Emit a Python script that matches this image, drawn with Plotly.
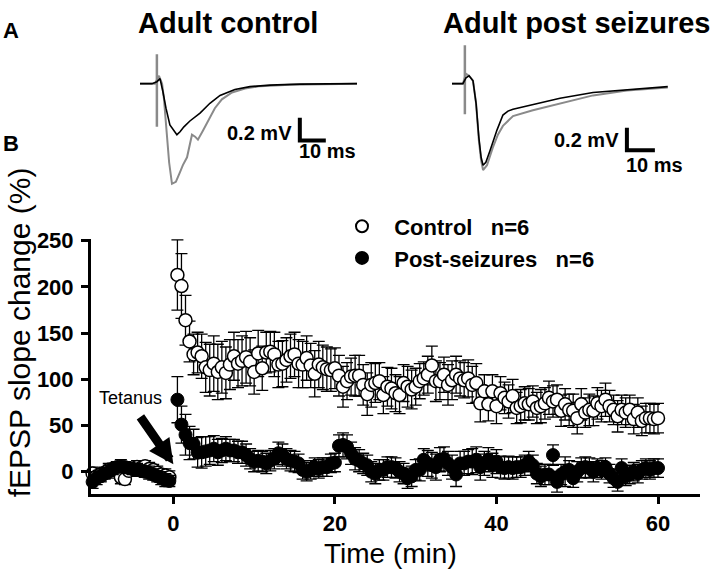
import plotly.graph_objects as go

# ---------------- Panel B data ----------------
base_time = [-10, -9.5, -9, -8.5, -8, -7.5, -7, -6.5, -6, -5.5,
             -5, -4.5, -4, -3.5, -3, -2.5, -2, -1.5, -1, -0.5]
ctrl_base = [-2, -5, -3, -1, 2, 3, 4, -6, -8, 1, 3, 5, 4, 6, 3, 2, -1, -3, -4, -6]
post_base = [-11, -7, -5, -2, 0, 3, 5, 6, 5, 4, 3, 2, 1, 0, -1, -3, -5, -7, -9, -10]
ctrl_base_err = [7, 6, 7, 6, 7, 6, 7, 7, 6, 6, 7, 7, 6, 6, 7, 6, 7, 6, 7, 7]
post_base_err = [7, 7, 6, 6, 7, 6, 6, 7, 6, 6, 6, 7, 6, 6, 7, 6, 6, 7, 7, 6]

post_time = [0.5, 1, 1.5, 2, 2.5, 3, 3.5, 4, 4.5, 5, 5.5, 6, 6.5, 7, 7.5, 8, 8.5, 9, 9.5, 10,
             10.5, 11, 11.5, 12, 12.5, 13, 13.5, 14, 14.5, 15, 15.5, 16, 16.5, 17, 17.5, 18, 18.5, 19, 19.5, 20,
             20.5, 21, 21.5, 22, 22.5, 23, 23.5, 24, 24.5, 25, 25.5, 26, 26.5, 27, 27.5, 28, 28.5, 29, 29.5, 30,
             30.5, 31, 31.5, 32, 32.5, 33, 33.5, 34, 34.5, 35, 35.5, 36, 36.5, 37, 37.5, 38, 38.5, 39, 39.5, 40,
             40.5, 41, 41.5, 42, 42.5, 43, 43.5, 44, 44.5, 45, 45.5, 46, 46.5, 47, 47.5, 48, 48.5, 49, 49.5, 50,
             50.5, 51, 51.5, 52, 52.5, 53, 53.5, 54, 54.5, 55, 55.5, 56, 56.5, 57, 57.5, 58, 58.5, 59, 59.5, 60]

ctrl_post = [213, 201, 164, 141, 127, 129, 125, 113, 110, 117, 108, 113, 107, 116, 125, 117, 120, 124, 119, 108,
             128, 112, 129, 130, 127, 116, 117, 121, 125, 127, 117, 116, 123, 115, 106, 116, 113, 111, 110, 112,
             104, 92, 98, 103, 104, 104, 94, 84, 94, 96, 98, 83, 92, 90, 85, 83, 96, 92, 89, 92,
             98, 101, 105, 115, 98, 98, 105, 94, 99, 105, 101, 99, 101, 94, 96, 74, 87, 73, 87, 71,
             85, 80, 76, 82, 69, 71, 74, 73, 76, 69, 71, 74, 80, 76, 78, 66, 73, 67, 66, 58,
             73, 64, 67, 66, 74, 71, 78, 71, 67, 60, 67, 64, 67, 57, 64, 55, 58, 58, 57, 58]
ctrl_post_err = [38, 35, 27, 22, 22, 22, 24, 27, 28, 30, 30, 28, 28, 27, 26, 26, 27, 28, 26, 24,
                 25, 24, 22, 22, 24, 25, 25, 24, 24, 24, 26, 25, 24, 24, 25, 25, 24, 24, 23, 22,
                 22, 22, 20, 20, 22, 22, 22, 23, 24, 21, 20, 20, 21, 22, 20, 20, 20, 22, 21, 20,
                 19, 18, 20, 21, 22, 20, 19, 22, 21, 20, 19, 19, 20, 20, 21, 20, 18, 18, 18, 19,
                 18, 17, 18, 18, 17, 18, 18, 17, 17, 17, 18, 17, 18, 17, 16, 17, 17, 17, 18, 17,
                 17, 16, 17, 16, 17, 17, 18, 17, 16, 17, 16, 16, 16, 16, 16, 16, 16, 16, 16, 16]

seiz_post = [78, 51, 40, 31, 30, 21, 21, 22, 23, 25, 21, 23, 25, 23, 23, 21, 21, 18, 14, 11,
             12, 11, 9, 12, 14, 20, 18, 14, 12, 11, 9, 2, 0, 2, 5, 3, 5, 5, 9, 10,
             28, 29, 27, 20, 14, 12, 9, 7, 0, -2, 2, 2, 5, 5, 4, 0, -2, -7, -5, 2,
             2, 13, 9, 7, 5, 13, 14, 9, 5, -3, 9, 9, 11, 11, 13, 5, 9, 13, 7, 11,
             5, 4, 5, 4, 5, 5, 7, 11, 7, -2, -5, -3, -3, 18, -11, -3, 0, 2, -7, 0,
             4, 5, 4, 0, 4, 2, 5, -2, -7, -11, 4, -5, -3, 0, -2, 2, 4, 2, 4, 4]
seiz_post_err = [25, 20, 22, 18, 16, 16, 17, 16, 15, 14, 14, 13, 13, 12, 12, 12, 12, 12, 11, 11,
                 11, 11, 11, 11, 11, 12, 12, 11, 11, 11, 10, 10, 10, 10, 10, 10, 10, 10, 10, 10,
                 12, 13, 13, 12, 12, 12, 11, 11, 11, 11, 11, 11, 11, 11, 11, 11, 11, 11, 11, 11,
                 12, 12, 14, 14, 14, 13, 13, 13, 13, 13, 13, 13, 13, 14, 14, 14, 13, 13, 13, 13,
                 12, 12, 12, 12, 11, 11, 11, 11, 11, 11, 11, 11, 11, 11, 11, 11, 16, 10, 10, 11,
                 11, 11, 11, 11, 10, 10, 10, 10, 10, 10, 10, 10, 10, 10, 10, 10, 10, 10, 10, 10]

x_ticks = [0, 20, 40, 60]
y_ticks = [0, 50, 100, 150, 200, 250]

# ---------------- Panel A data (ms, mV) ----------------
left_black_t = [0, 4.6, 6.5, 7.7, 8.8, 10.0, 11.5, 13.1, 14.2, 15.4, 16.9, 19.2, 23.1, 26.9, 30.8, 36.5, 42.3, 50.0, 61.5, 83.5]
left_black_v = [0, 0, 0.019, 0.048, -0.076, -0.238, -0.400, -0.457, -0.495, -0.467, -0.419, -0.362, -0.286, -0.190, -0.114, -0.057, -0.029, -0.014, -0.005, 0]
left_gray_t = [0, 5.8, 7.3, 8.5, 9.2, 10.0, 11.2, 12.3, 13.8, 15.4, 16.5, 18.1, 19.2, 20.0, 21.2, 22.3, 24.2, 26.2, 28.8, 31.5, 35.4, 40.4, 46.2, 57.7, 83.5]
left_gray_v = [0, 0, 0.076, 0, -0.143, -0.381, -0.762, -0.971, -0.952, -0.857, -0.790, -0.714, -0.571, -0.495, -0.514, -0.543, -0.457, -0.362, -0.238, -0.152, -0.086, -0.048, -0.024, -0.010, 0]
left_artifact_t = [6.5, 6.5]
left_artifact_v = [0.286, -0.419]

right_black_t = [0, 3.9, 5.0, 6.1, 7.5, 8.6, 9.6, 10.4, 11.1, 12.1, 13.6, 16.1, 18.2, 20.0, 21.8, 28.9, 38.6, 50.4, 62.5, 77.1]
right_black_v = [0, 0, 0.052, 0.070, 0.026, -0.174, -0.478, -0.652, -0.722, -0.696, -0.591, -0.409, -0.278, -0.243, -0.226, -0.183, -0.130, -0.078, -0.052, -0.026]
right_gray_t = [0, 3.9, 5.0, 6.1, 7.5, 8.6, 9.6, 10.4, 11.1, 12.5, 14.6, 16.4, 18.2, 21.8, 28.9, 38.6, 50.4, 62.5, 77.1]
right_gray_v = [0, 0, 0.087, 0.070, 0.026, -0.174, -0.504, -0.678, -0.765, -0.722, -0.565, -0.452, -0.374, -0.287, -0.235, -0.174, -0.104, -0.061, -0.035]
right_artifact_t = [4.6, 4.6]
right_artifact_v = [0.339, -0.270]

W, H = 720, 571
GRAY = "#8a8a8a"
FONT = "Liberation Sans, Arial, sans-serif"

def px(x):
    return x / W

def py(y):
    return 1 - y / H

fig = go.Figure()

# Panel B series
fig.add_trace(go.Scatter(
    x=base_time + post_time, y=ctrl_base + ctrl_post,
    error_y=dict(type="data", array=ctrl_base_err + ctrl_post_err, color="black", thickness=1.3, width=6),
    mode="markers", name="\u00a0\u00a0Control\u00a0\u00a0\u00a0n=6",
    marker=dict(symbol="circle", size=13, color="white", line=dict(color="black", width=1.5)),
    xaxis="x", yaxis="y", cliponaxis=False))
fig.add_trace(go.Scatter(
    x=base_time + post_time, y=post_base + seiz_post,
    error_y=dict(type="data", array=post_base_err + seiz_post_err, color="black", thickness=1.3, width=6),
    mode="markers", name="\u00a0\u00a0Post-seizures\u00a0\u00a0\u00a0n=6",
    marker=dict(symbol="circle", size=13, color="black", line=dict(color="black", width=1)),
    xaxis="x", yaxis="y", cliponaxis=False))

# Panel A traces
for (tx, vx, col, w, xa, ya) in [
    (left_artifact_t, left_artifact_v, GRAY, 2.5, "x2", "y2"),
    (left_gray_t, left_gray_v, GRAY, 2, "x2", "y2"),
    (left_black_t, left_black_v, "black", 1.6, "x2", "y2"),
    (right_artifact_t, right_artifact_v, GRAY, 2.5, "x3", "y3"),
    (right_gray_t, right_gray_v, GRAY, 2, "x3", "y3"),
    (right_black_t, right_black_v, "black", 1.6, "x3", "y3"),
]:
    fig.add_trace(go.Scatter(x=tx, y=vx, mode="lines", line=dict(color=col, width=w),
                             xaxis=xa, yaxis=ya, showlegend=False, hoverinfo="skip"))

# Scale bars (10 ms x 0.2 mV)
fig.add_shape(type="path", xref="x2", yref="y2",
              path="M 61.5,-0.33 L 61.5,-0.55 L 71.5,-0.55",
              line=dict(color="black", width=4))
fig.add_shape(type="path", xref="x3", yref="y3",
              path="M 62.5,-0.39 L 62.5,-0.59 L 72.5,-0.59",
              line=dict(color="black", width=4))

tick_font = dict(family=FONT, size=22, color="black")

fig.update_layout(
    width=W, height=H,
    margin=dict(l=0, r=0, t=0, b=0),
    paper_bgcolor="white", plot_bgcolor="white",
    font=dict(family=FONT, color="black"),
    xaxis=dict(domain=[px(91), px(700)], range=[-10.2, 65.2],
               showline=True, linewidth=3, linecolor="black", showgrid=False, zeroline=False,
               ticks="outside", ticklen=7, tickwidth=3, tickcolor="black",
               tickvals=x_ticks, ticktext=["<b>%d</b>" % v for v in x_ticks],
               tickfont=tick_font, ticklabelstandoff=0,
               anchor="y"),
    yaxis=dict(domain=[py(493), py(233)], range=[-24.5, 252],
               showline=True, linewidth=3, linecolor="black", showgrid=False, zeroline=False,
               ticks="outside", ticklen=7, tickwidth=3, tickcolor="black",
               tickvals=y_ticks, ticktext=["<b>%d</b>" % v for v in y_ticks],
               tickfont=tick_font, ticklabelstandoff=3,
               anchor="x"),
    xaxis2=dict(domain=[px(140), px(357)], range=[0, 83.5], visible=False, anchor="y2"),
    yaxis2=dict(domain=[py(185), py(40)], range=[-1.048, 0.333], visible=False, anchor="x2"),
    xaxis3=dict(domain=[px(452), px(670)], range=[0, 77.9], visible=False, anchor="y3"),
    yaxis3=dict(domain=[py(185), py(30)], range=[-0.957, 0.391], visible=False, anchor="x3"),
    showlegend=True,
    legend=dict(x=px(342), y=py(199), xanchor="left", yanchor="top",
                font=dict(family=FONT, size=22, color="black", weight="bold"),
                bgcolor="rgba(0,0,0,0)", borderwidth=0, tracegroupgap=0, itemsizing="constant"),
)

annots = [
    dict(text="<b>Adult control</b>", x=228, y=13, size=29, angle=0),
    dict(text="<b>Adult post seizures</b>", x=577, y=13, size=29, angle=0),
    dict(text="<b>A</b>", x=11, y=21, size=22, angle=0),
    dict(text="<b>B</b>", x=11, y=136, size=22, angle=0),
    dict(text="<b>0.2 mV</b>", x=259, y=125, size=20, angle=0),
    dict(text="<b>10 ms</b>", x=327, y=144, size=20, angle=0),
    dict(text="<b>0.2 mV</b>", x=586, y=132, size=20, angle=0),
    dict(text="<b>10 ms</b>", x=654, y=158, size=20, angle=0),
    dict(text="Tetanus", x=130, y=395, size=18, angle=0),
    dict(text="Time (min)", x=390, y=553, size=28, angle=0),
    dict(text="fEPSP slope change (%)", x=19, y=328, size=30, angle=-90),
]
for a in annots:
    fig.add_annotation(text=a["text"], x=px(a["x"]), y=py(a["y"]), xref="paper", yref="paper",
                       xanchor="center", yanchor="middle", showarrow=False, textangle=a["angle"],
                       font=dict(family=FONT, size=a["size"], color="black"))

# Tetanus arrow
fig.add_annotation(x=0, y=8, xref="x", yref="y", text="", showarrow=True,
                   ax=-34, ay=-49, arrowhead=2, arrowsize=0.55, arrowwidth=9,
                   arrowcolor="black", standoff=0)

fig.write_html("out.html", config={"displayModeBar": False},
               post_script="document.body.style.margin='0';document.body.style.padding='0';")
